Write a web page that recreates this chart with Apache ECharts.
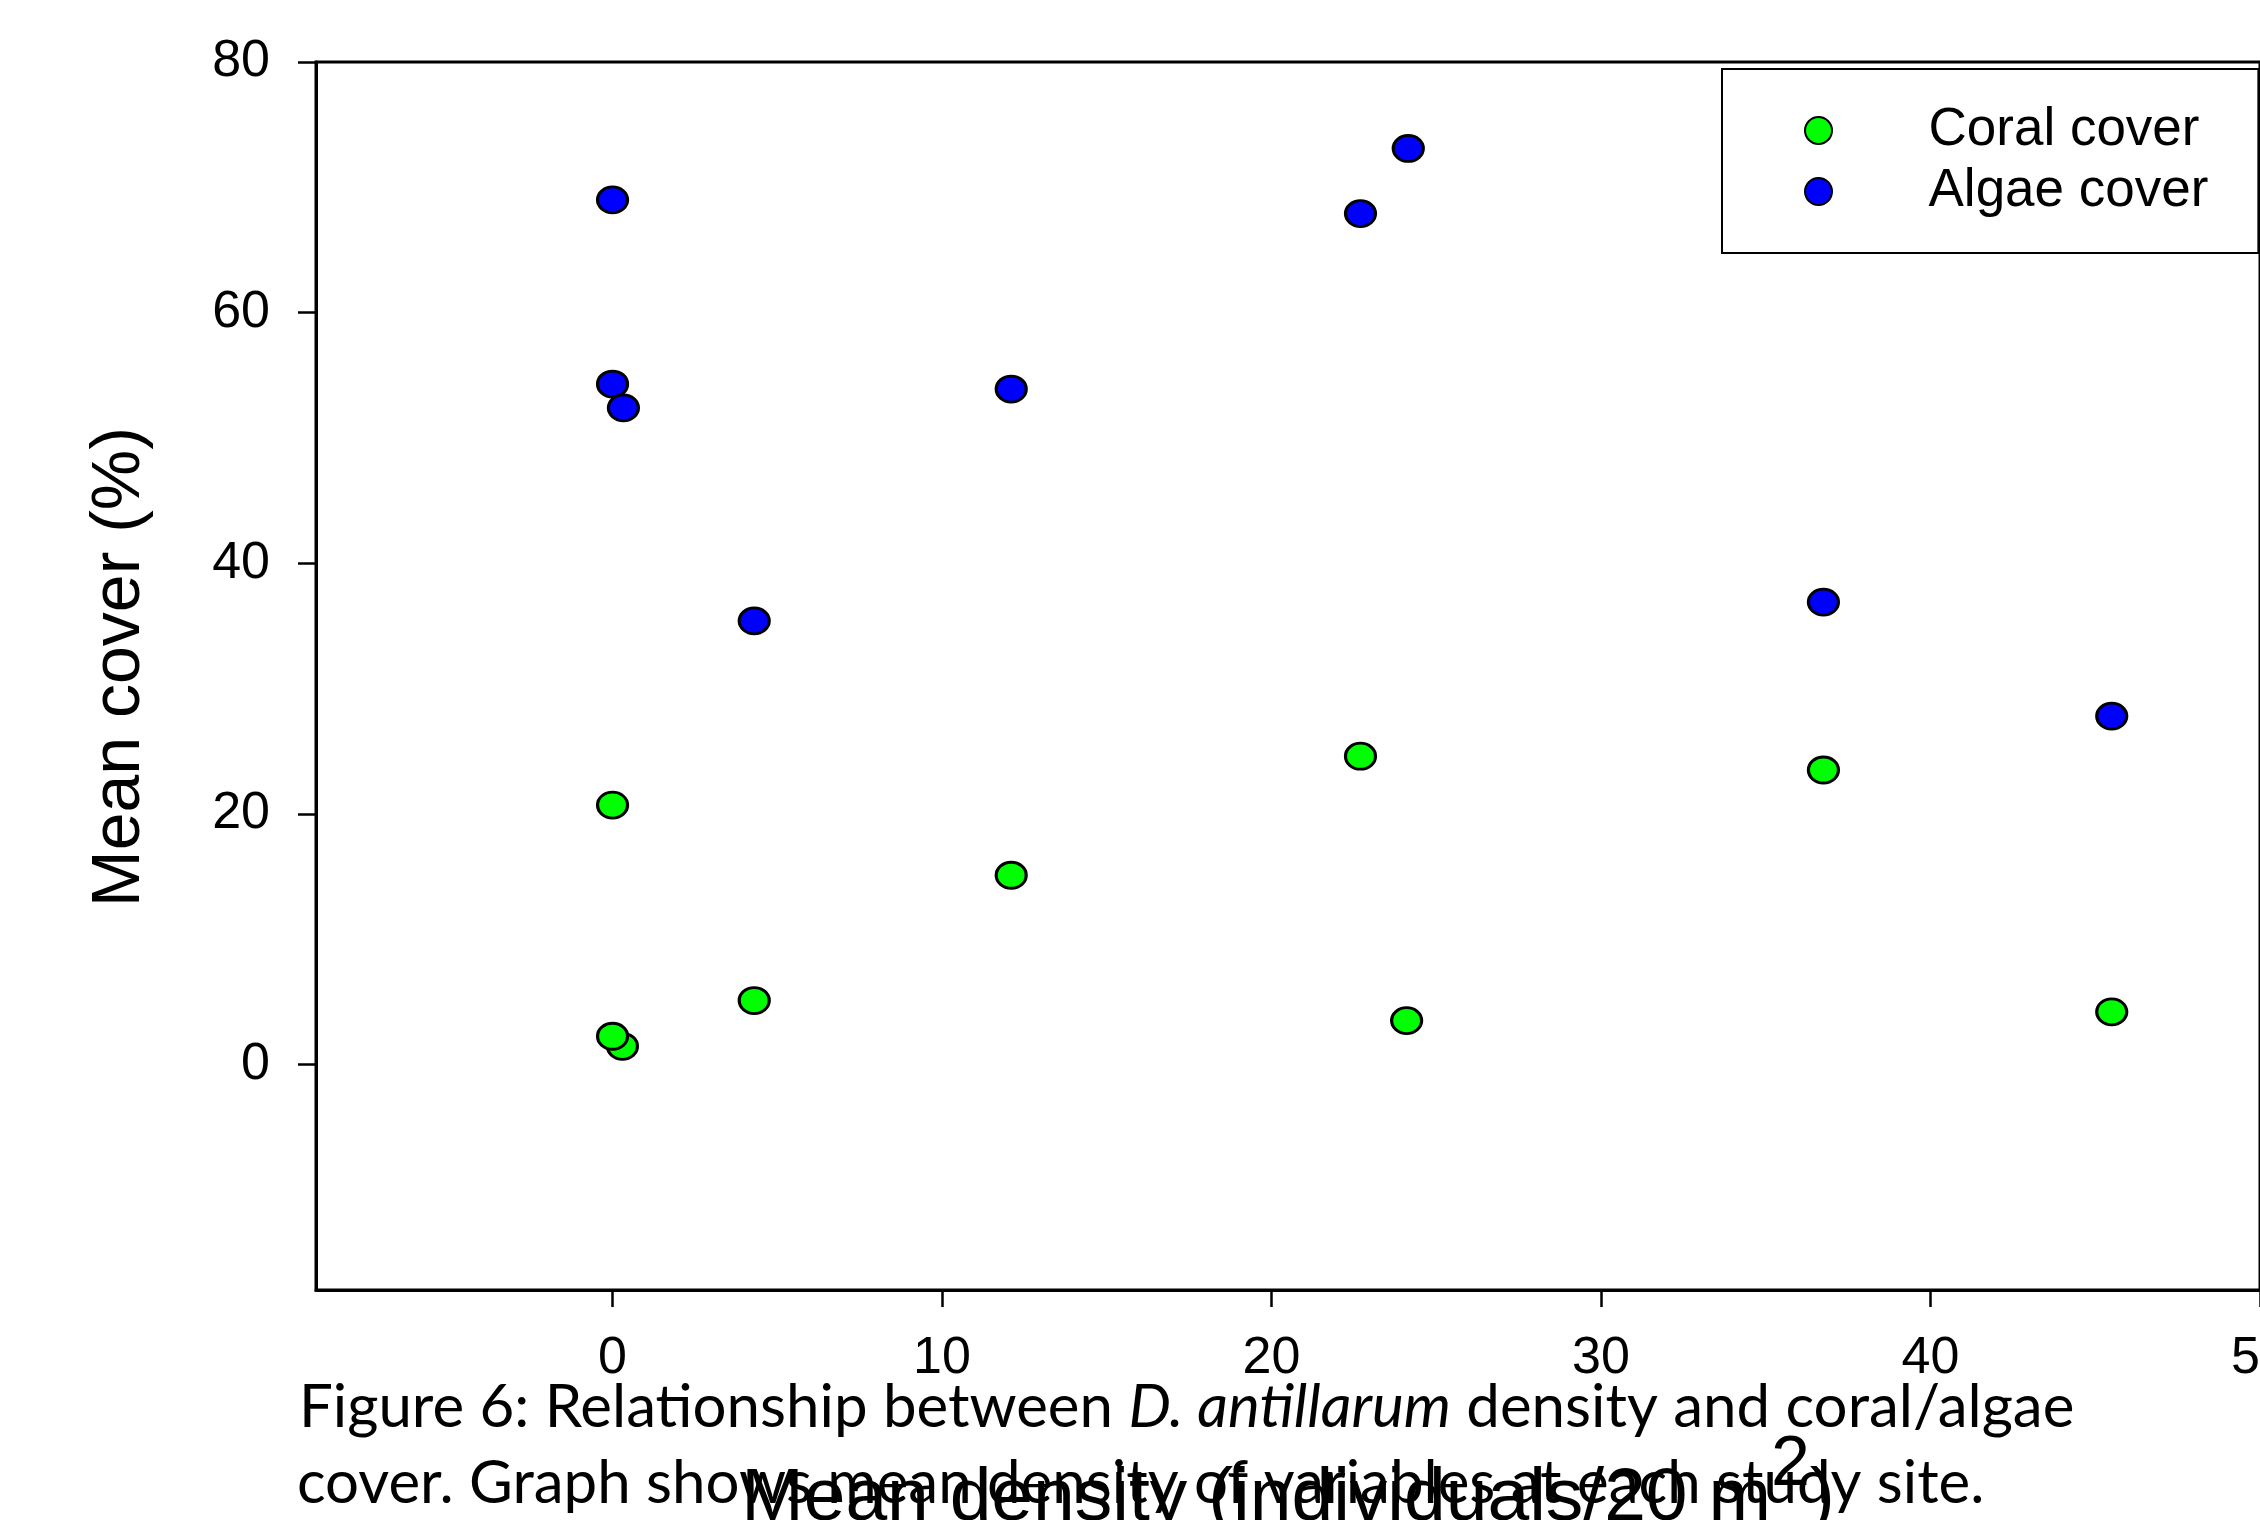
<!DOCTYPE html>
<html><head><meta charset="utf-8">
<script src="https://cdn.jsdelivr.net/npm/echarts@6/dist/echarts.min.js"></script>
<style>html,body{margin:0;padding:0;background:#fff}#c{width:2260px;height:1520px}</style>
</head><body><div id="c"></div>
<script>
// ---- data ----
const seriesNames = ['Coral cover', 'Algae cover'];
const coralDensity = [0, 0.3, 0, 4.3, 12.1, 22.7, 24.1, 36.75, 45.5];
const coralCover   = [20.7, 1.45, 2.25, 5.1, 15.1, 24.6, 3.5, 23.5, 4.2];
const algaeDensity = [0, 0, 0.33, 4.3, 12.1, 22.7, 24.15, 36.75, 45.5];
const algaeCover   = [69.0, 54.3, 52.4, 35.4, 53.9, 67.9, 73.1, 36.9, 27.8];
const xTicks = [0, 10, 20, 30, 40, 50];
const yTicks = [0, 20, 40, 60, 80];
const xTitle = '{m|Mean density (individuals/20 m}{s|2}{m|)}';
const yTitle = 'Mean cover (%)';
const captionLine1 = ['Figure 6: Relationship between ', 'D. antillarum', ' density and coral/algae'];
const captionLine2 = 'cover. Graph shows mean density of variables at each study site.';

const F = 'Liberation Sans, Arial, sans-serif';
const CF = 'Lato, sans-serif';
function pairs(xs, ys) { return xs.map((x, i) => [x, ys[i]]); }

const chart = echarts.init(document.getElementById('c'), null, {renderer: 'canvas'});
chart.setOption({
  animation: false,
  backgroundColor: '#fff',
  grid: {left: 316, top: 62, right: 0, bottom: 230, outerBoundsMode: 'none', containLabel: false,
         show: true, borderColor: '#000', borderWidth: 3, backgroundColor: 'transparent'},
  xAxis: {
    type: 'value', min: -9, max: 50,
    name: xTitle, nameLocation: 'middle', nameGap: 141,
    nameTextStyle: {rich: {
      m: {fontFamily: F, fontSize: 75, lineHeight: 75, verticalAlign: 'bottom', color: '#000'},
      s: {fontFamily: F, fontSize: 70, lineHeight: 106, verticalAlign: 'top', padding: [0, 0, 36, 0], color: '#000'}
    }},
    axisLine: {show: true, onZero: false, lineStyle: {color: '#000', width: 3}},
    axisTick: {show: true, length: 17, lineStyle: {color: '#000', width: 2.5}, customValues: xTicks},
    axisLabel: {fontFamily: F, fontSize: 52, color: '#000', margin: 43, customValues: xTicks},
    splitLine: {show: false}
  },
  yAxis: {
    type: 'value', min: -18, max: 80,
    name: yTitle, nameLocation: 'middle', nameGap: 162, nameRotate: 90,
    nameTextStyle: {fontFamily: F, fontSize: 68, color: '#000', padding: [0, 0, 0, 18]},
    axisLine: {show: true, onZero: false, lineStyle: {color: '#000', width: 3}},
    axisTick: {show: true, length: 18, lineStyle: {color: '#000', width: 2.5}, customValues: yTicks},
    axisLabel: {fontFamily: F, fontSize: 52, color: '#000', margin: 46, customValues: yTicks},
    splitLine: {show: false}
  },
  legend: {
    orient: 'vertical', left: 1722, top: 69,
    data: seriesNames,
    itemWidth: 30, itemHeight: 27, itemGap: 8, symbolKeepAspect: false,
    padding: [35, 50, 35, 82],
    borderColor: '#000', borderWidth: 2, backgroundColor: '#fff',
    formatter: name => '{sp|}' + name,
    textStyle: {fontFamily: F, fontSize: 53, lineHeight: 50, color: '#000', rich: {sp: {width: 90}}}
  },
  series: [
    {name: seriesNames[0], type: 'scatter', data: pairs(coralDensity, coralCover), symbol: 'circle', symbolSize: [30, 26],
     itemStyle: {color: '#00ff00', borderColor: '#000', borderWidth: 3, opacity: 1}},
    {name: seriesNames[1], type: 'scatter', data: pairs(algaeDensity, algaeCover), symbol: 'circle', symbolSize: [30, 26],
     itemStyle: {color: '#0000ff', borderColor: '#000', borderWidth: 3, opacity: 1}}
  ],
  graphic: [
    {type: 'text', x: 299, y: 1408, z: 10, style: {
      text: '{n|' + captionLine1[0] + '}{i|' + captionLine1[1] + '}{n|' + captionLine1[2] + '}',
      verticalAlign: 'middle', align: 'left',
      rich: {n: {fontFamily: CF, fontSize: 60, fill: '#000'}, i: {fontFamily: CF, fontSize: 60, fontStyle: 'italic', fill: '#000'}}
    }},
    {type: 'text', x: 297, y: 1484, z: 10, style: {
      text: captionLine2, verticalAlign: 'middle', align: 'left',
      fontFamily: CF, fontSize: 60, fill: '#000'
    }}
  ]
});
</script></body></html>
